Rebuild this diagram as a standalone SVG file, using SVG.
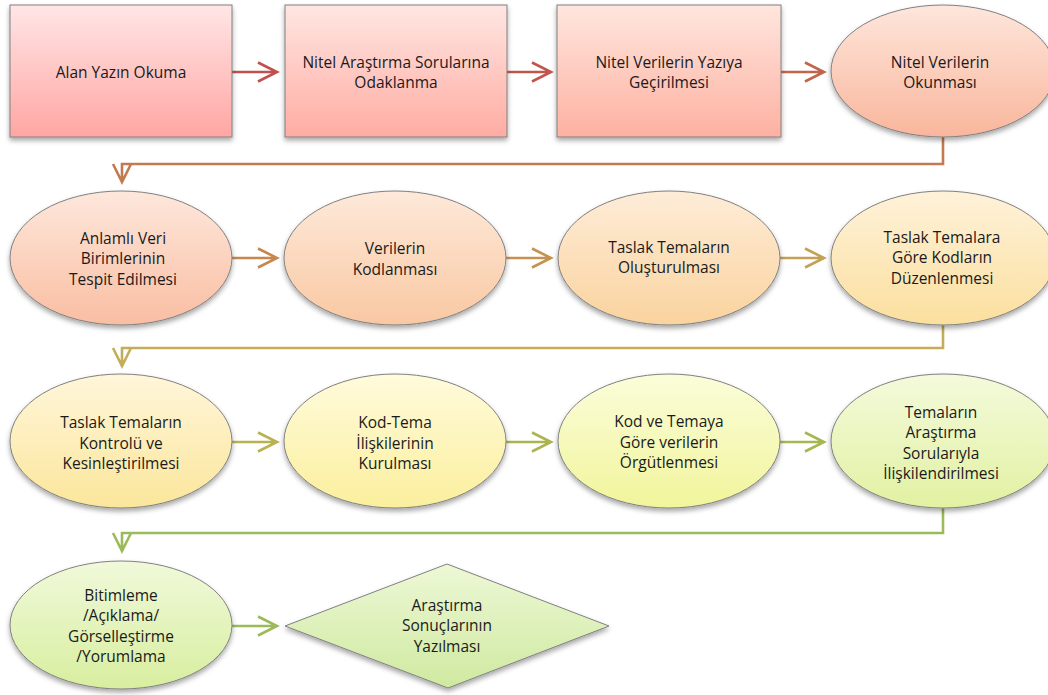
<svg xmlns="http://www.w3.org/2000/svg" width="1048" height="695" viewBox="0 0 1048 695">
<defs>
<filter id="sh" x="-10%" y="-10%" width="120%" height="130%">
<feDropShadow dx="0" dy="3" stdDeviation="2.5" flood-color="#000" flood-opacity="0.35"/>
</filter>
<linearGradient id="g1" x1="0" y1="0" x2="0" y2="1"><stop offset="0" stop-color="#FFE6E6"/><stop offset="1" stop-color="#FFA6A3"/></linearGradient>
<linearGradient id="g2" x1="0" y1="0" x2="0" y2="1"><stop offset="0" stop-color="#FFE6E2"/><stop offset="1" stop-color="#FFACA2"/></linearGradient>
<linearGradient id="g3" x1="0" y1="0" x2="0" y2="1"><stop offset="0" stop-color="#FFE6DE"/><stop offset="1" stop-color="#FDB1A1"/></linearGradient>
<linearGradient id="g4" x1="0" y1="0" x2="0" y2="1"><stop offset="0" stop-color="#FEE6DC"/><stop offset="1" stop-color="#F9B69C"/></linearGradient>
<linearGradient id="g5" x1="0" y1="0" x2="0" y2="1"><stop offset="0" stop-color="#FEE7DC"/><stop offset="1" stop-color="#F9BEA2"/></linearGradient>
<linearGradient id="g6" x1="0" y1="0" x2="0" y2="1"><stop offset="0" stop-color="#FEE9DA"/><stop offset="1" stop-color="#F9C8A2"/></linearGradient>
<linearGradient id="g7" x1="0" y1="0" x2="0" y2="1"><stop offset="0" stop-color="#FEECD8"/><stop offset="1" stop-color="#FAD39E"/></linearGradient>
<linearGradient id="g8" x1="0" y1="0" x2="0" y2="1"><stop offset="0" stop-color="#FFF2DA"/><stop offset="1" stop-color="#FBDF9E"/></linearGradient>
<linearGradient id="g9" x1="0" y1="0" x2="0" y2="1"><stop offset="0" stop-color="#FFF6DA"/><stop offset="1" stop-color="#FBE69B"/></linearGradient>
<linearGradient id="g10" x1="0" y1="0" x2="0" y2="1"><stop offset="0" stop-color="#FFFBDC"/><stop offset="1" stop-color="#FBEF9D"/></linearGradient>
<linearGradient id="g11" x1="0" y1="0" x2="0" y2="1"><stop offset="0" stop-color="#FBFDDA"/><stop offset="1" stop-color="#F1F59B"/></linearGradient>
<linearGradient id="g12" x1="0" y1="0" x2="0" y2="1"><stop offset="0" stop-color="#F4FADC"/><stop offset="1" stop-color="#E2F1A2"/></linearGradient>
<linearGradient id="g13" x1="0" y1="0" x2="0" y2="1"><stop offset="0" stop-color="#F0F9DA"/><stop offset="1" stop-color="#D8EE9F"/></linearGradient>
<linearGradient id="g14" x1="0" y1="0" x2="0" y2="1"><stop offset="0" stop-color="#EDF8D6"/><stop offset="1" stop-color="#CFE9A0"/></linearGradient>
</defs>
<style>
.n{stroke:#808080;stroke-width:1;filter:url(#sh)}
.t{font-family:"Open Sans","Noto Sans","DejaVu Sans",sans-serif;font-size:15.5px;fill:#1a1a1a;text-anchor:middle}
.c{fill:none;stroke-width:2.6;stroke-linejoin:miter;stroke-linecap:butt}
</style>
<rect width="1048" height="695" fill="#ffffff"/>
<g id="connectors">
<path class="c" stroke="#C0504D" d="M232,72 H277 M258,62.5 L277,72 L258,81.5"/>
<path class="c" stroke="#C1554D" d="M507,72 H551 M532,62.5 L551,72 L532,81.5"/>
<path class="c" stroke="#C0664D" d="M781,72 H824 M805,62.5 L824,72 L805,81.5"/>
<path class="c" stroke="#C27A50" d="M943,137 V164 H122 V182 M113,164 L122,182 L131,164"/>
<path class="c" stroke="#C6864E" d="M232,258 H277 M258,248.5 L277,258 L258,267.5"/>
<path class="c" stroke="#C6924F" d="M506,258 H551 M532,248.5 L551,258 L532,267.5"/>
<path class="c" stroke="#C4A055" d="M780,258 H824 M805,248.5 L824,258 L805,267.5"/>
<path class="c" stroke="#C3AD5A" d="M943,325 V348 H122 V366 M113,348 L122,366 L131,348"/>
<path class="c" stroke="#B8B250" d="M232,442 H277 M258,432.5 L277,442 L258,451.5"/>
<path class="c" stroke="#ADB350" d="M506,442 H551 M532,432.5 L551,442 L532,451.5"/>
<path class="c" stroke="#A6B650" d="M780,442 H824 M805,432.5 L824,442 L805,451.5"/>
<path class="c" stroke="#9BBB59" d="M943,508 V533 H122 V551 M113,533 L122,551 L131,533"/>
<path class="c" stroke="#9BBB59" d="M232,626 H277 M258,616.5 L277,626 L258,635.5"/>
</g>
<g id="n1"><rect class="n" x="10" y="5" width="222" height="132" fill="url(#g1)"/><text class="t" x="121" y="77.5">Alan Yazın Okuma</text></g>
<g id="n2"><rect class="n" x="285" y="5" width="222" height="132" fill="url(#g2)"/><text class="t" x="396" y="67.5">Nitel Araştırma Sorularına</text><text class="t" x="396" y="88">Odaklanma</text></g>
<g id="n3"><rect class="n" x="557" y="5" width="224" height="132" fill="url(#g3)"/><text class="t" x="669" y="67.5">Nitel Verilerin Yazıya</text><text class="t" x="669" y="88">Geçirilmesi</text></g>
<g id="n4"><ellipse class="n" cx="943" cy="71" rx="112" ry="66" fill="url(#g4)"/><text class="t" x="940" y="67.5">Nitel Verilerin</text><text class="t" x="940" y="88">Okunması</text></g>
<g id="n5"><ellipse class="n" cx="121" cy="258" rx="111" ry="67" fill="url(#g5)"/><text class="t" x="123" y="243.5">Anlamlı Veri</text><text class="t" x="123" y="264">Birimlerinin</text><text class="t" x="123" y="284.5">Tespit Edilmesi</text></g>
<g id="n6"><ellipse class="n" cx="395" cy="258" rx="111" ry="67" fill="url(#g6)"/><text class="t" x="395" y="254">Verilerin</text><text class="t" x="395" y="274.5">Kodlanması</text></g>
<g id="n7"><ellipse class="n" cx="669" cy="258" rx="111" ry="67" fill="url(#g7)"/><text class="t" x="669" y="252.5">Taslak Temaların</text><text class="t" x="669" y="273">Oluşturulması</text></g>
<g id="n8"><ellipse class="n" cx="943" cy="258" rx="112" ry="67" fill="url(#g8)"/><text class="t" x="942" y="242.5">Taslak Temalara</text><text class="t" x="942" y="263">Göre Kodların</text><text class="t" x="942" y="283.5">Düzenlenmesi</text></g>
<g id="n9"><ellipse class="n" cx="121" cy="441" rx="111" ry="67" fill="url(#g9)"/><text class="t" x="121" y="428">Taslak Temaların</text><text class="t" x="121" y="448.5">Kontrolü ve</text><text class="t" x="121" y="469">Kesinleştirilmesi</text></g>
<g id="n10"><ellipse class="n" cx="395" cy="441" rx="111" ry="67" fill="url(#g10)"/><text class="t" x="395" y="428">Kod-Tema</text><text class="t" x="395" y="448.5">İlişkilerinin</text><text class="t" x="395" y="469">Kurulması</text></g>
<g id="n11"><ellipse class="n" cx="669" cy="441" rx="111" ry="67" fill="url(#g11)"/><text class="t" x="669" y="427">Kod ve Temaya</text><text class="t" x="669" y="447.5">Göre verilerin</text><text class="t" x="669" y="468">Örgütlenmesi</text></g>
<g id="n12"><ellipse class="n" cx="943" cy="441" rx="112" ry="67" fill="url(#g12)"/><text class="t" x="941" y="417.5">Temaların</text><text class="t" x="941" y="438">Araştırma</text><text class="t" x="941" y="458.5">Sorularıyla</text><text class="t" x="941" y="479">İlişkilendirilmesi</text></g>
<g id="n13"><ellipse class="n" cx="121" cy="625" rx="111" ry="64" fill="url(#g13)"/><text class="t" x="121" y="600.5">Bitimleme</text><text class="t" x="121" y="621">/Açıklama/</text><text class="t" x="121" y="641.5">Görselleştirme</text><text class="t" x="121" y="662">/Yorumlama</text></g>
<g id="n14"><polygon class="n" points="285,626 447,564 609,626 448,688" fill="url(#g14)"/><text class="t" x="447" y="610.5">Araştırma</text><text class="t" x="447" y="631">Sonuçlarının</text><text class="t" x="447" y="651.5">Yazılması</text></g>
</svg>
